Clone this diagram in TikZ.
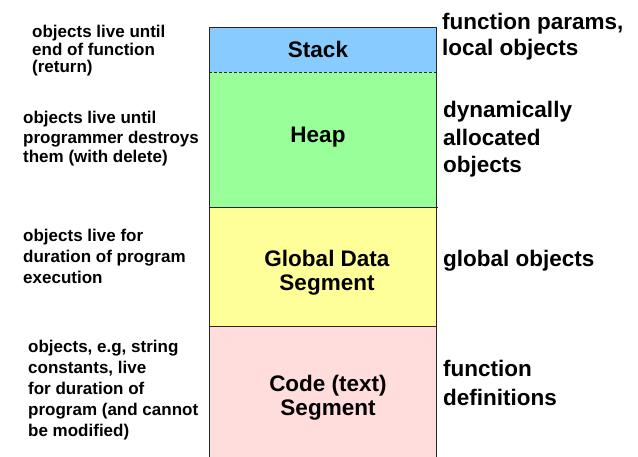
\documentclass[tikz,border=0pt]{standalone}
\usepackage{fontspec}
\setmainfont{Liberation Sans}
\begin{document}
\begin{tikzpicture}[x=1pt,y=-1pt,
  seg/.style={rectangle, draw=none, inner sep=0pt, minimum width=227pt, outer sep=0pt},
  border/.style={draw=black!85, line width=0.8pt},
  seglabel/.style={inner sep=0pt, align=center, font=\bfseries\fontsize{22.5}{24}\selectfont},
  note/.style={inner sep=0pt, anchor=north west, align=left, font=\bfseries\fontsize{17}{#1}\selectfont},
  kind/.style={inner sep=0pt, anchor=north west, align=left, font=\bfseries\fontsize{22.5}{#1}\selectfont}]
\definecolor{stackc}{RGB}{136,204,255}
\definecolor{heapc}{RGB}{153,255,153}
\definecolor{globalc}{RGB}{255,255,153}
\definecolor{codec}{RGB}{255,221,221}
\useasboundingbox (0,0) rectangle (638,457);

% memory segments, top to bottom
\node[seg, fill=stackc,  minimum height=45pt]  (stack)  at (322.5,49.5)  {};
\node[seg, fill=heapc,   minimum height=135pt] (heap)   at (322.5,139.5) {};
\node[seg, fill=globalc, minimum height=119pt] (global) at (322.5,266.5) {};
\node[seg, fill=codec,   minimum height=131pt] (code)   at (322.5,391.5) {};

% outline of the memory column (open at the bottom)
\draw[border] (stack.north west) -- (stack.north east);
\draw[border] (stack.north west) -- (code.south west);
\draw[border] (stack.north east) -- (code.south east);
\draw[border, dash pattern=on 3pt off 2pt] (stack.south west) -- (stack.south east);
\draw[border] (heap.south west) -- ([xshift=2pt]heap.south east);
\draw[border] (global.south west) -- (global.south east);

% segment names
\node[seglabel, anchor=base] (stacklbl) at (318,57.7) {Stack};
\node[seglabel, anchor=base] (heaplbl) at (318,142.7) {Heap};
\node[seglabel, anchor=north] (globallbl) at (327,249.6) {Global Data\\Segment};
\node[seglabel, anchor=north] (codelbl) at (328,375) {Code (text)\\Segment};

% lifetimes (left)
\node[note=17.5] (lifestack) at (32,25) {objects live until\\end of function\\(return)};
\node[note=19.5] (lifeheap) at (23,111) {objects live until\\programmer destroys\\them (with delete)};
\node[note=21] (lifeglobal) at (23,229) {objects live for\\duration of program\\execution};
\node[note=21] (lifecode) at (28,340) {objects, e.g, string\\constants, live\\for duration of\\program (and cannot\\be modified)};

% contents (right)
\node[kind=25.5] (whatstack) at (442,13) {function params,\\local objects};
\node[kind=27.5] (whatheap) at (443,101) {dynamically\\allocated\\objects};
\node[kind=25] (whatglobal) at (443,250) {global objects};
\node[kind=29] (whatcode) at (443,360.4) {function\\definitions};
\end{tikzpicture}
\end{document}
